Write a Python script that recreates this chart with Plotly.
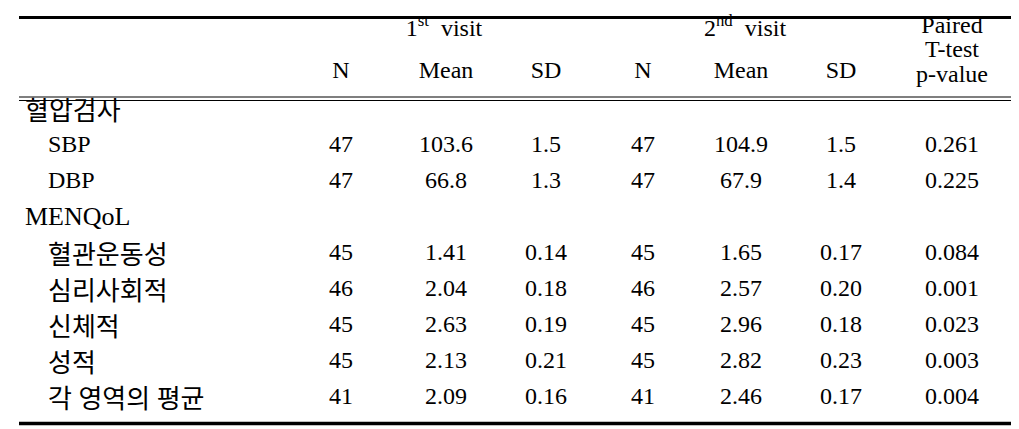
import plotly.graph_objects as go

# table content
row_labels = ["혈압검사", "SBP", "DBP", "MENQoL", "혈관운동성", "심리사회적", "신체적", "성적", "각 영역의 평균"]
row_level = [0, 1, 1, 0, 1, 1, 1, 1, 1]          # 0 = group heading, 1 = item
data_rows = [1, 2, 4, 5, 6, 7, 8]                 # rows that carry numbers
row_decimals = [1, 1, 2, 2, 2, 2, 2]

n_1st = [47, 47, 45, 46, 45, 45, 41]
mean_1st = [103.6, 66.8, 1.41, 2.04, 2.63, 2.13, 2.09]
sd_1st = [1.5, 1.3, 0.14, 0.18, 0.19, 0.21, 0.16]
n_2nd = [47, 47, 45, 46, 45, 45, 41]
mean_2nd = [104.9, 67.9, 1.65, 2.57, 2.96, 2.82, 2.46]
sd_2nd = [1.5, 1.4, 0.17, 0.20, 0.18, 0.23, 0.17]
p_value = [0.261, 0.225, 0.084, 0.001, 0.023, 0.003, 0.004]

group_titles = ["1<sup>st</sup>\u00a0\u00a0visit", "2<sup>nd</sup>\u00a0\u00a0visit"]
sub_titles = ["N", "Mean", "SD", "N", "Mean", "SD"]
pvalue_title = ["Paired", "T-test", "p-value"]

# layout (pixel-like axis units)
W, H = 1019, 429
FONT = "Liberation Serif, Noto Sans CJK KR, serif"
FS = 24
FS_BIG = 26   # korean labels and group headings
col_x = [333, 438, 538, 635, 733, 833, 944]
group_x = [436, 737]
label_x = {0: 17, 1: 40}
row_y0, row_h = 108, 36
DY = -6        # text baseline nudge
KO_DY = 3      # CJK glyphs sit higher, push them down a little


def row_y(i):
    return row_y0 + row_h * i + DY


def fmt(v, d):
    return f"{v:.{d}f}"


def is_korean(s):
    return any("\uac00" <= ch <= "\ud7a3" for ch in s)


fig = go.Figure()
txt = dict(family=FONT, size=FS, color="#000000")

# row labels
for lvl in (0, 1):
    idx = [i for i, l in enumerate(row_level) if l == lvl]
    labs = [row_labels[i] for i in idx]
    sizes = [FS_BIG if (is_korean(s) or lvl == 0) else FS for s in labs]
    ys = [row_y(i) + (KO_DY if is_korean(row_labels[i]) else 0) for i in idx]
    fig.add_trace(go.Scatter(
        x=[label_x[lvl]] * len(idx), y=ys,
        text=labs, mode="text", textposition="middle right",
        textfont=dict(family=FONT, color="#000000", size=sizes),
        hoverinfo="skip"))

# numeric columns
columns = [
    [str(v) for v in n_1st],
    [fmt(v, d) for v, d in zip(mean_1st, row_decimals)],
    [fmt(v, d) for v, d in zip(sd_1st, row_decimals)],
    [str(v) for v in n_2nd],
    [fmt(v, d) for v, d in zip(mean_2nd, row_decimals)],
    [fmt(v, d) for v, d in zip(sd_2nd, row_decimals)],
    [fmt(v, 3) for v in p_value],
]
for cx, vals in zip(col_x, columns):
    fig.add_trace(go.Scatter(
        x=[cx] * len(vals), y=[row_y(i) for i in data_rows],
        text=vals, mode="text", textposition="middle center",
        textfont=txt, hoverinfo="skip"))

# headers
fig.add_trace(go.Scatter(
    x=group_x, y=[28 + DY] * 2, text=group_titles, mode="text",
    textposition="middle center", textfont=txt, hoverinfo="skip"))
fig.add_trace(go.Scatter(
    x=col_x[:6], y=[70 + DY] * 6, text=sub_titles, mode="text",
    textposition="middle center", textfont=txt, hoverinfo="skip"))
fig.add_trace(go.Scatter(
    x=[col_x[6]] * 3, y=[y + DY for y in (25, 49, 74)], text=pvalue_title,
    mode="text", textposition="middle center", textfont=txt, hoverinfo="skip"))

# rules
x0, x1 = 11, 1004
rules = [(9.5, 3), (89, 1.2), (92.5, 1.2), (415.5, 3.5)]
for y, w in rules:
    fig.add_shape(type="line", xref="x", yref="y", x0=x0, x1=x1, y0=y, y1=y,
                  line=dict(color="#000000", width=w))

fig.update_layout(
    width=W, height=H,
    margin=dict(l=0, r=0, t=0, b=0),
    paper_bgcolor="white", plot_bgcolor="white",
    showlegend=False,
    xaxis=dict(range=[0, W], visible=False, fixedrange=True),
    yaxis=dict(range=[H, 0], visible=False, fixedrange=True),
)

fig.write_html("out.html")
